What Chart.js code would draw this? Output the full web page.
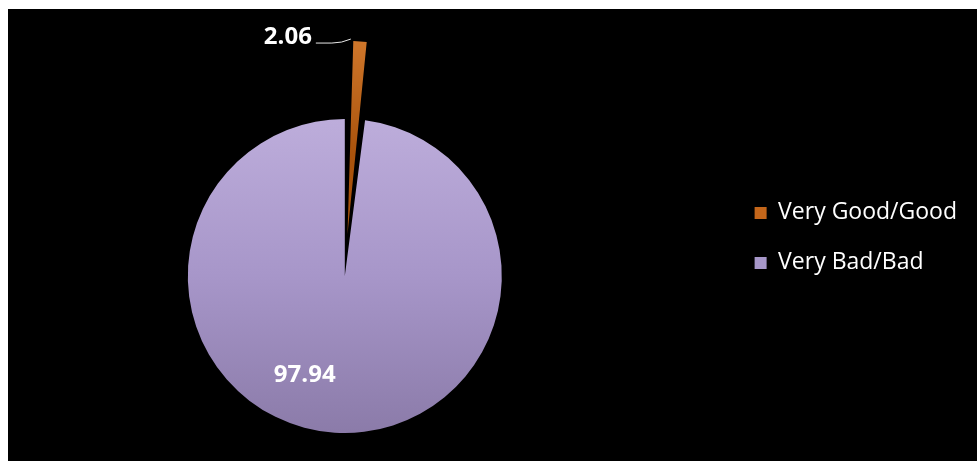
<!DOCTYPE html>
<html>
<head>
<meta charset="utf-8">
<script src="https://cdn.jsdelivr.net/npm/chart.js"></script>
<style>
	html, body { margin: 0; padding: 0; background: #fff; }
	#box { position: absolute; left: 8px; top: 9px; width: 969px; height: 452px; background: #000; overflow: hidden; }
	#mycanvas { position: absolute; left: -46px; top: 0; }
</style>
</head>
<body>
<div id="box"><canvas id="mycanvas" width="1015" height="452"></canvas></div>
<script>
var labels = ['Very Good/Good', 'Very Bad/Bad'];
var values = [2.06, 97.94];

var pieRadius = 157;
var solidColors = ['#c4661a', '#a797c9'];

// 3d-ish shading of the slices
function sliceFill(context) {
	var chart = context.chart;
	var area = chart.chartArea;
	if (!area) return solidColors[context.dataIndex];
	var cy = (area.top + area.bottom) / 2;
	var g;
	if (context.dataIndex === 0) {
		g = chart.ctx.createLinearGradient(0, cy - pieRadius - 80, 0, cy - 80);
		g.addColorStop(0, '#de8436');
		g.addColorStop(1, '#a9530c');
	} else {
		g = chart.ctx.createLinearGradient(0, cy - pieRadius, 0, cy + pieRadius);
		g.addColorStop(0, '#bdaddb');
		g.addColorStop(0.5, '#a796c9');
		g.addColorStop(1, '#8b7ba9');
	}
	return g;
}

// value labels on / next to the slices
var valueLabels = {
	id: 'valueLabels',
	afterDatasetsDraw: function(chart) {
		var ctx = chart.ctx;
		var meta = chart.getDatasetMeta(0);
		ctx.save();
		ctx.fillStyle = '#fff';
		ctx.strokeStyle = '#e8e8e8';
		ctx.lineWidth = 1;
		ctx.font = 'bold 24px "Open Sans"';
		ctx.textBaseline = 'middle';

		//small exploded slice: label outside with leader line
		var a = meta.data[0];
		var p = a.getProps(['x', 'y', 'startAngle', 'endAngle', 'outerRadius', 'circumference']);
		var mid = (p.startAngle + p.endAngle) / 2;
		var off = (a.options.offset || 0) / 4;
		var shift = off + off * (1 - Math.sin(Math.min(Math.PI, p.circumference)));
		var tx = p.x + Math.cos(mid) * shift + Math.cos(p.startAngle) * p.outerRadius;
		var ty = p.y + Math.sin(mid) * shift + Math.sin(p.startAngle) * p.outerRadius;
		ctx.beginPath();
		ctx.moveTo(tx - 34, ty + 2);
		ctx.lineTo(tx - 18, ty + 2);
		ctx.quadraticCurveTo(tx - 8, ty + 2, tx + 1, ty - 2);
		ctx.stroke();
		ctx.textAlign = 'right';
		ctx.fillText(values[0].toFixed(2), tx - 38, ty - 4);

		//big slice: label inside
		var b = meta.data[1];
		var q = b.getProps(['x', 'y', 'startAngle', 'endAngle', 'outerRadius']);
		var ang = (q.startAngle + q.endAngle) / 2 + 0.32;
		ctx.textAlign = 'center';
		ctx.fillText(values[1].toFixed(2), q.x + Math.cos(ang) * q.outerRadius * 0.68, q.y + Math.sin(ang) * q.outerRadius * 0.68);
		ctx.restore();
	}
};

var ctx = document.getElementById('mycanvas');

var pieChart = new Chart(ctx, {
	type: 'pie',
	data: {
		labels: labels,
		datasets: [
			{
				data: values,
				backgroundColor: sliceFill,
				borderWidth: 0,
				offset: [167, 0],
				clip: false
			}
		]
	},
	options: {
		responsive: false,
		animation: false,
		events: [],
		radius: pieRadius,
		layout: {
			padding: { left: 0, right: 10, top: 82, bottom: 0 }
		},
		plugins: {
			tooltip: { enabled: false },
			legend: {
				position: 'right',
				align: 'start',
				title: { display: true, text: '', padding: { top: 69, bottom: 0 } },
				labels: {
					color: '#fff',
					boxWidth: 12,
					boxHeight: 12,
					padding: 27,
					font: { family: 'Open Sans', size: 23 },
					generateLabels: function(chart) {
						var items = Chart.overrides.doughnut.plugins.legend.labels.generateLabels(chart);
						items.forEach(function(item, i) {
							item.fillStyle = solidColors[i];
							item.strokeStyle = solidColors[i];
							item.lineWidth = 0;
						});
						return items;
					}
				}
			}
		}
	},
	plugins: [valueLabels]
});
</script>
</body>
</html>
